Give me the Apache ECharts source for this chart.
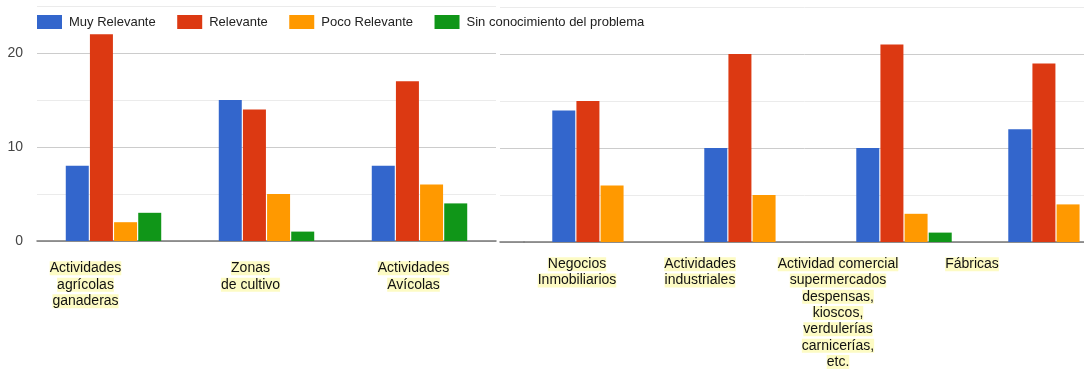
<!DOCTYPE html>
<html>
<head>
<meta charset="utf-8">
<script src="https://cdn.jsdelivr.net/npm/echarts@6/dist/echarts.min.js"></script>
<style>
html,body{margin:0;padding:0;background:#fff;}
#chart{width:1084px;height:370px;}
</style>
</head>
<body>
<div id="chart"></div>
<script>
// ---- data ----
const categoriesLeft = ['Actividades\nagrícolas\nganaderas', 'Zonas\nde cultivo', 'Actividades\nAvícolas'];
const categoriesRight = ['Negocios\nInmobiliarios', 'Actividades\nindustriales', 'Actividad comercial\nsupermercados\ndespensas,\nkioscos,\nverdulerías\ncarnicerías,\netc.', 'Fábricas'];
const seriesNames = ['Muy Relevante', 'Relevante', 'Poco Relevante', 'Sin conocimiento del problema'];
const muyRelevante = [8, 15, 8, 14, 10, 10, 12];
const relevante = [22, 14, 17, 15, 20, 21, 19];
const pocoRelevante = [2, 5, 6, 6, 5, 3, 4];
const sinConocimiento = [3, 1, 4, 0, 0, 1, 0];
const yTicks = [0, 10, 20];

// ---- styling ----
const colors = ['#3366cc', '#dc3912', '#ff9900', '#109618'];
const allValues = [muyRelevante, relevante, pocoRelevante, sinConocimiento];
const nLeft = categoriesLeft.length;

function labelRich(shifts, lh) {
  const rich = {
    hl: { backgroundColor: '#fdfbc4', color: '#111', fontSize: 14, lineHeight: lh, fontFamily: 'Liberation Sans, Arial, sans-serif' }
  };
  shifts.forEach((w, i) => { rich['s' + i] = { width: w, fontSize: 14, lineHeight: lh }; });
  return rich;
}
function labelFormatter(value, index) {
  return value.split('\n').map(l => '{hl|' + l + '}{s' + index + '| }').join('\n');
}

const yAxisBase = (gridIndex, showLabels) => ({
  type: 'value', gridIndex: gridIndex, min: 0, max: 25, interval: 5,
  axisLine: { show: false }, axisTick: { show: false },
  axisLabel: {
    show: showLabels, margin: 14, color: '#444', fontSize: 14,
    fontFamily: 'Liberation Sans, Arial, sans-serif',
    formatter: v => (yTicks.indexOf(v) >= 0 ? String(v) : '')
  },
  splitLine: { lineStyle: { color: ['#cccccc', '#ebebeb'], width: 1 } }
});

const xAxisLine = { show: true, lineStyle: { color: '#777', width: 1.5 } };

const series = [];
seriesNames.forEach((name, s) => {
  series.push({
    name: name, type: 'bar', xAxisIndex: 0, yAxisIndex: 0,
    data: allValues[s].slice(0, nLeft),
    barWidth: 23, barGap: '5%',
    itemStyle: { color: colors[s] }
  });
  series.push({
    name: name, type: 'bar', xAxisIndex: 1, yAxisIndex: 1,
    data: allValues[s].slice(nLeft),
    barWidth: 23, barGap: '5%',
    itemStyle: { color: colors[s] }
  });
});

const option = {
  animation: false,
  backgroundColor: '#fff',
  legend: {
    data: seriesNames,
    left: 32, top: 10,
    itemWidth: 25, itemHeight: 14, itemGap: 21.5,
    icon: 'rect',
    textStyle: { color: '#222', fontSize: 13, fontFamily: 'Liberation Sans, Arial, sans-serif', padding: [0, 0, 0, 2] }
  },
  grid: [
    { left: 37, width: 459, top: 6, height: 235, outerBoundsMode: 'none', containLabel: false },
    { left: 524, width: 608, top: 7, height: 235, outerBoundsMode: 'none', containLabel: false },
    { left: 500, width: 24, top: 7, height: 235, outerBoundsMode: 'none', containLabel: false }
  ],
  xAxis: [
    {
      type: 'category', gridIndex: 0, data: categoriesLeft,
      axisLine: xAxisLine, axisTick: { show: false },
      axisLabel: { interval: 0, margin: 19, hideOverlap: false, formatter: labelFormatter, rich: labelRich([56, 32, 12], 16.5) }
    },
    {
      type: 'category', gridIndex: 1, data: categoriesRight,
      axisLine: xAxisLine, axisTick: { show: false },
      axisLabel: { interval: 0, margin: 14, hideOverlap: false, formatter: labelFormatter, rich: labelRich([46, 104, 132, 168], 16.3) }
    },
    {
      type: 'category', gridIndex: 2, data: [''],
      axisLine: xAxisLine, axisTick: { show: false }, axisLabel: { show: false }
    }
  ],
  yAxis: [yAxisBase(0, true), yAxisBase(1, false), yAxisBase(2, false)],
  series: series
};

const chart = echarts.init(document.getElementById('chart'), null, { renderer: 'canvas' });
chart.setOption(option);
</script>
</body>
</html>
